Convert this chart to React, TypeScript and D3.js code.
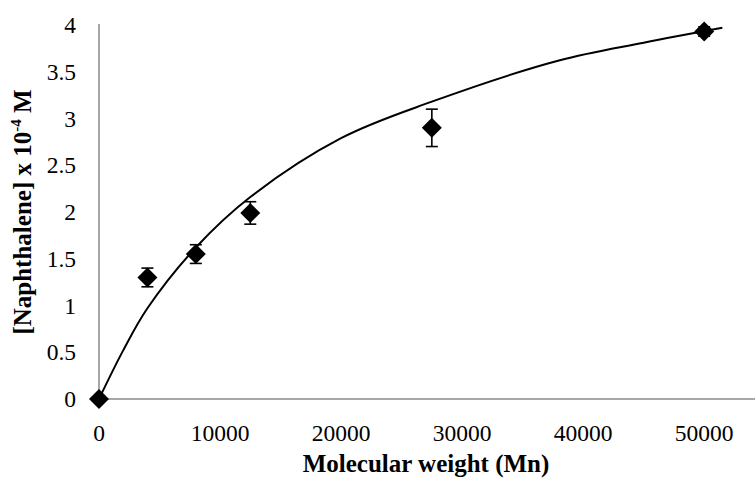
import * as d3 from 'd3'

// measured points
const molWeight = [0, 4000, 8000, 12500, 27500, 50000]
const naphthalene = [0, 1.3, 1.55, 1.99, 2.9, 3.93]
const errors = [0, 0.1, 0.1, 0.12, 0.2, 0.05]

// fitted trend line
const fitX = [0, 2000, 4000, 8000, 12500, 20000, 27500, 38000, 45000, 51500]
const fitY = [0, 0.52, 0.97, 1.62, 2.16, 2.79, 3.18, 3.62, 3.81, 3.97]

const xTicks = [0, 10000, 20000, 30000, 40000, 50000]
const yTicks = [0, 0.5, 1, 1.5, 2, 2.5, 3, 3.5, 4]

const WIDTH = 756
const HEIGHT = 483
const FONT = "'Liberation Serif', 'Times New Roman', serif"
const AXIS_COLOR = '#898989'

export default function App() {
  const x = d3.scaleLinear().domain([0, 54200]).range([99, 755])
  const y = d3.scaleLinear().domain([0, 4]).range([399, 25])

  const line = d3.line<number>()
    .x((d, i) => x(fitX[i]))
    .y(d => y(d))
    .curve(d3.curveCatmullRom.alpha(0.5))

  const points = molWeight.map((m, i) => ({ m, v: naphthalene[i], e: errors[i] }))
  const r = 10
  const cap = 6

  return (
    <svg width={WIDTH} height={HEIGHT}
      style={{ position: 'absolute', left: 0, top: 0, background: '#fff', fontFamily: FONT }}>
      {/* axes */}
      <line x1={x(0)} x2={x(54200)} y1={y(0)} y2={y(0)} stroke={AXIS_COLOR} strokeWidth={1.5} />
      <line x1={x(0)} x2={x(0)} y1={y(0)} y2={24} stroke={AXIS_COLOR} strokeWidth={1.5} />

      {yTicks.map(t => (
        <text key={'y' + t} x={76} y={y(t)} dy="0.35em" textAnchor="end"
          fontFamily={FONT} fontSize={23.5} fill="#000">{t}</text>
      ))}
      {xTicks.map(t => (
        <text key={'x' + t} x={x(t)} y={441} textAnchor="middle"
          fontFamily={FONT} fontSize={23.5} fill="#000">{t}</text>
      ))}

      {/* trend line */}
      <path d={line(fitY) || ''} fill="none" stroke="#000" strokeWidth={2} />

      {/* error bars */}
      {points.filter(p => p.e > 0).map(p => (
        <g key={'e' + p.m} stroke="#000" strokeWidth={1.6}>
          <line x1={x(p.m)} x2={x(p.m)} y1={y(p.v - p.e)} y2={y(p.v + p.e)} />
          <line x1={x(p.m) - cap} x2={x(p.m) + cap} y1={y(p.v - p.e)} y2={y(p.v - p.e)} />
          <line x1={x(p.m) - cap} x2={x(p.m) + cap} y1={y(p.v + p.e)} y2={y(p.v + p.e)} />
        </g>
      ))}

      {/* markers */}
      {points.map(p => {
        const cx = x(p.m)
        const cy = y(p.v)
        return (
          <path key={'m' + p.m}
            d={`M${cx},${cy - r}L${cx + r},${cy}L${cx},${cy + r}L${cx - r},${cy}Z`}
            fill="#000" />
        )
      })}

      {/* axis titles */}
      <text x={426} y={472} textAnchor="middle" fontFamily={FONT} fontSize={25} fontWeight="bold"
        fill="#000">Molecular weight (Mn)</text>
      <text transform={`translate(31,${212}) rotate(-90)`} textAnchor="middle"
        fontFamily={FONT} fontSize={25} fontWeight="bold" fill="#000">
        [Naphthalene] x 10<tspan fontSize={15} dy={-10}>-4</tspan><tspan dy={10}> M</tspan>
      </text>
    </svg>
  )
}
